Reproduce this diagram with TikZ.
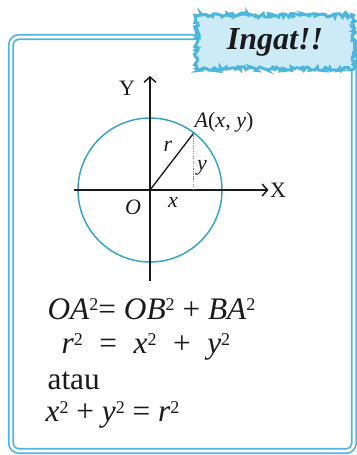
\documentclass[tikz,border=0pt]{standalone}
\usepackage{fontspec}
\setmainfont{Liberation Serif}
\usepackage{tikz}
\usetikzlibrary{arrows.meta,positioning,calc,decorations.pathmorphing}
\definecolor{ink}{HTML}{1A1A1A}
\definecolor{frameblue}{HTML}{4DB6DE}
\definecolor{circblue}{HTML}{35A3C8}
\definecolor{bannerfill}{HTML}{CDEAF7}
\definecolor{dotgray}{HTML}{8A8A8A}
\newcommand{\sqr}{\raisebox{0.6ex}{\fontsize{13.5}{13.5}\selectfont 2}}

\begin{document}
\begin{tikzpicture}[x=0.75pt,y=-0.75pt, every node/.style={text=ink,inner sep=1pt}, lbl/.style={font=\fontsize{16.5}{18}\selectfont}, eqn/.style={font=\fontsize{23.5}{26}\selectfont,anchor=west}, axis/.style={draw=ink,line width=1.1pt}, banner/.style={draw=frameblue,fill=bannerfill,line width=2.2pt,minimum width=118pt,minimum height=40pt,decorate,decoration={random steps,segment length=1.3pt,amplitude=1.5pt},font=\fontsize{24}{26}\selectfont\bfseries\itshape}]
\useasboundingbox (0,0) rectangle (357,455);
\draw[frameblue,line width=1.3pt,double=white,double distance=2pt,rounded corners=6pt] (11,37) rectangle (354,451);
\node[banner] (ingat) at (275,42) {Ingat!!};
% circle and axes
\coordinate (O) at (150,190);
\draw[circblue,line width=1.1pt] (O) circle[radius=72];
\coordinate (xs) at (74,190);
\coordinate (yb) at (150,281);
\coordinate (yt) at (150,76);
\node[lbl] (X) at (278,190) {X};
\node[lbl] (Y) at (127,88) {Y};
\draw[axis,-{Straight Barb[length=4pt,width=9pt]}] (xs) -- (X.west);
\draw[axis,-{Straight Barb[length=4pt,width=9pt]}] (yb) -- (yt);
\coordinate (A) at ($(O)+(-52.5:72)$);
\draw[ink,line width=1pt] (O) -- (A);
\draw[dotgray,densely dotted,line width=0.9pt] (A) -- (A |- O);
\node[lbl] (lA) at (224,122) {\textit{A}(\textit{x}, \textit{y})};
\node[lbl] (lr) at (168,146) {\textit{r}};
\node[lbl] (ly) at (202,168) {\textit{y}};
\node[lbl] (lx) at (173,202) {\textit{x}};
\node[lbl] (lO) at (133,207) {\textit{O}};
% formulas
\node[eqn] (eq1) at (46,309) {\textit{OA}\sqr= \textit{OB}\sqr{} + \textit{BA}\sqr};
\node[eqn] (eq2) at (60,347) {\textit{r}\sqr{} \;=\; \textit{x}\sqr{} \;+\; \textit{y}\sqr};
\node[eqn] (eq3) at (46,381) {atau};
\node[eqn] (eq4) at (44,415) {\textit{x}\sqr{} + \textit{y}\sqr{} = \textit{r}\sqr};
\end{tikzpicture}
\end{document}
